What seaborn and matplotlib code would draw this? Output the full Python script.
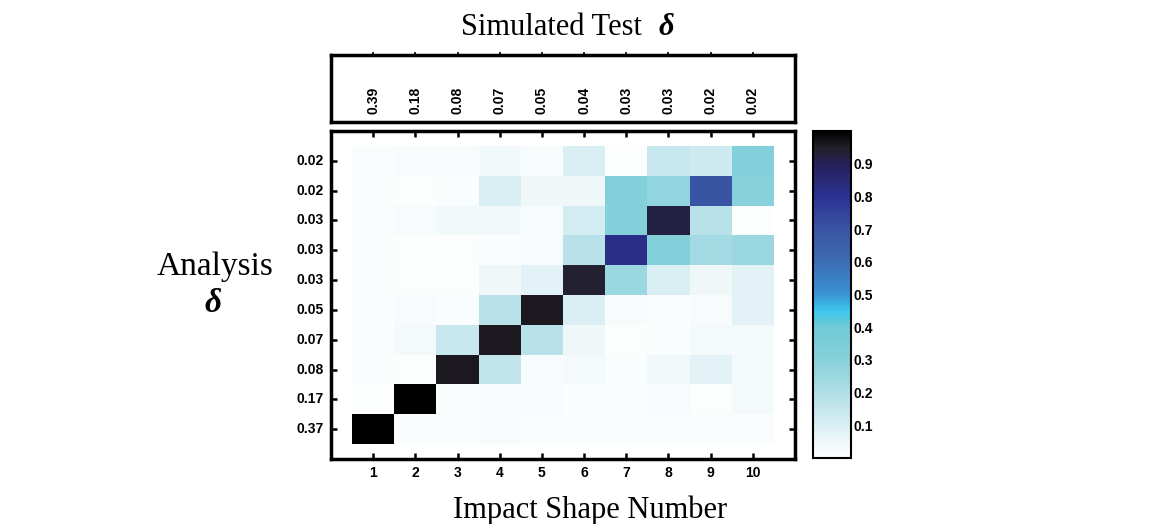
import numpy as np
import pandas as pd
import matplotlib
matplotlib.use("Agg")
import matplotlib.pyplot as plt
import seaborn as sns
from matplotlib.colors import LinearSegmentedColormap

# impact shape numbers and the delta labels
shapes = [1, 2, 3, 4, 5, 6, 7, 8, 9, 10]
test_delta = ["0.39", "0.18", "0.08", "0.07", "0.05", "0.04", "0.03", "0.03", "0.02", "0.02"]
# analysis delta, listed top row first
analysis_delta = ["0.02", "0.02", "0.03", "0.03", "0.03", "0.05", "0.07", "0.08", "0.17", "0.37"]

# correlation values, rows top to bottom (analysis shape 10 ... 1)
row10 = [0.01, 0.02, 0.02, 0.04, 0.02, 0.10, 0.00, 0.15, 0.13, 0.32]
row9 = [0.01, 0.00, 0.01, 0.10, 0.05, 0.05, 0.32, 0.27, 0.70, 0.30]
row8 = [0.01, 0.02, 0.04, 0.04, 0.02, 0.12, 0.32, 0.92, 0.18, 0.00]
row7 = [0.01, 0.00, 0.00, 0.01, 0.02, 0.18, 0.82, 0.31, 0.23, 0.25]
row6 = [0.01, 0.00, 0.00, 0.05, 0.08, 0.94, 0.25, 0.10, 0.05, 0.08]
row5 = [0.01, 0.02, 0.01, 0.18, 0.96, 0.10, 0.02, 0.01, 0.02, 0.08]
row4 = [0.01, 0.03, 0.15, 0.96, 0.18, 0.05, 0.00, 0.01, 0.03, 0.03]
row3 = [0.01, 0.00, 0.96, 0.16, 0.02, 0.03, 0.01, 0.04, 0.08, 0.03]
row2 = [0.00, 1.00, 0.01, 0.02, 0.02, 0.01, 0.01, 0.02, 0.00, 0.03]
row1 = [1.00, 0.01, 0.01, 0.02, 0.01, 0.01, 0.01, 0.01, 0.01, 0.01]

df = pd.DataFrame([row10, row9, row8, row7, row6, row5, row4, row3, row2, row1],
                  index=analysis_delta, columns=shapes)

cmap = LinearSegmentedColormap.from_list("mac", [
    (0.0, "#fcfefe"), (0.05, "#eef7f9"), (0.1, "#d9eff4"), (0.2, "#b0dee6"),
    (0.3, "#86d1da"), (0.4, "#70cbd6"), (0.45, "#3cc6ee"), (0.5, "#3a94d4"),
    (0.6, "#3c6cb4"), (0.7, "#3a55a4"), (0.8, "#2b3292"), (0.9, "#26205a"),
    (0.95, "#222028"), (1.0, "#000000")])

sns.set_style("white")
plt.rcParams["font.family"] = ["Liberation Sans", "DejaVu Sans"]
plt.rcParams["text.color"] = "black"
plt.rcParams["xtick.color"] = "black"
plt.rcParams["ytick.color"] = "black"

fig = plt.figure(figsize=(11.51, 5.24), dpi=100)
ax = fig.add_axes([0.2876, 0.124, 0.4031, 0.626])
cax = fig.add_axes([0.7063, 0.126, 0.033, 0.624])
tax = fig.add_axes([0.2876, 0.767, 0.4031, 0.128])

sns.heatmap(df, ax=ax, cmap=cmap, vmin=0.0, vmax=1.0, cbar_ax=cax,
            cbar_kws={"ticks": [0.1, 0.2, 0.3, 0.4, 0.5, 0.6, 0.7, 0.8, 0.9]})

ax.set_xlim(-0.5, 10.5)
ax.set_ylim(10.5, -0.5)
for s in ax.spines.values():
    s.set_visible(True)
    s.set_linewidth(2.5)
    s.set_color("black")
ax.tick_params(direction="in", length=4, width=1.8, top=True, bottom=True,
               left=True, right=True, labelsize=10, pad=5)
ax.set_xticklabels(shapes, fontweight="bold", rotation=0)
ax.set_yticklabels(analysis_delta, fontweight="bold", rotation=0)
ax.set_xlabel("")
ax.set_ylabel("")

# colorbar
cbar = ax.collections[0].colorbar
cax.tick_params(direction="in", length=3, width=1, left=True, right=True,
                labelsize=10, pad=2)
for lab in cax.get_yticklabels():
    lab.set_fontweight("bold")
cbar.outline.set_visible(True)
cbar.outline.set_linewidth(1.5)
cbar.outline.set_edgecolor("black")

# top box with test delta labels
tax.set_xlim(ax.get_xlim())
tax.set_ylim(0, 1)
tax.set_xticks([i + 0.5 for i in range(len(test_delta))])
tax.set_xticklabels([])
tax.set_yticks([])
tax.tick_params(axis="x", bottom=False, top=True, direction="out", length=2, width=1.2)
for s in tax.spines.values():
    s.set_visible(True)
    s.set_linewidth(2.5)
    s.set_color("black")
for i, lab in enumerate(test_delta):
    tax.text(i + 0.5, 0.32, lab, rotation=90, ha="center", va="center",
             fontsize=10, fontweight="bold")

serif = ["Liberation Serif", "DejaVu Serif"]
fig.text(0.558, 0.933, "Simulated Test", ha="right", va="baseline",
         fontsize=22, family=serif)
fig.text(0.5786, 0.933, "δ", ha="center", va="baseline", fontsize=22,
         family=serif, style="italic", fontweight="bold")
fig.text(0.1868, 0.475, "Analysis", ha="center", va="baseline", fontsize=24, family=serif)
fig.text(0.185, 0.405, "δ", ha="center", va="baseline", fontsize=24,
         family=serif, style="italic", fontweight="bold")
fig.text(0.5126, 0.0115, "Impact Shape Number", ha="center", va="baseline",
         fontsize=22, family=serif)

fig.savefig("out.png", dpi=100)
